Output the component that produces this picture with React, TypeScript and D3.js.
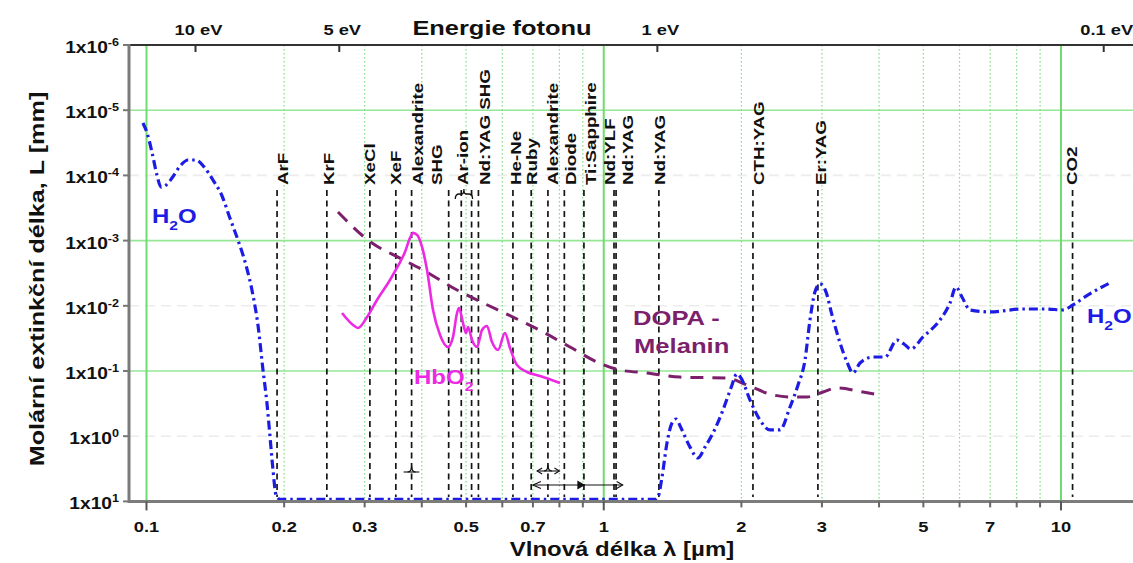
import React from 'react';
import * as d3 from 'd3';

// ---- data ---------------------------------------------------------------
// Wavelengths in µm, extinction length L in mm.
const h2oWavelength = [
  0.0982, 0.1003, 0.1028, 0.1054, 0.1076, 0.1098, 0.1137, 0.1184, 0.1233, 0.1283,
  0.1336, 0.1398, 0.1463, 0.1522, 0.1585, 0.165, 0.1709, 0.1753, 0.1798, 0.1834,
  0.1863, 0.1891, 0.192, 0.196, 0.6, 1.294, 1.314, 1.341, 1.375, 1.41, 1.439, 1.476,
  1.544, 1.607, 1.665, 1.734, 1.823, 1.898, 1.956, 1.996, 2.089, 2.196, 2.31, 2.429,
  2.555, 2.66, 2.755, 2.825, 2.897, 2.971, 3.062, 3.156, 3.286, 3.404, 3.509, 3.635,
  3.88, 4.123, 4.378, 4.535, 4.697, 4.992, 5.437, 5.718, 5.893, 6.073, 6.324, 6.994,
  8.26, 9.32, 10.1, 10.62, 11.46, 12.93,
];
const h2oLength = [
  1.57e-5, 2.24e-5, 4.4e-5, 9.9e-5, 1.51e-4, 1.45e-4, 1.1e-4, 7.2e-5, 5.8e-5, 5.8e-5,
  7.4e-5, 1.18e-4, 2.07e-4, 4.5e-4, 9.8e-4, 2.37e-3, 6.8e-3, 0.0197, 0.0966, 0.31,
  1.03, 3.3, 7.98, 9.3, 9.3, 9.3, 8.57, 4.23, 1.27, 0.628, 0.545, 0.75,
  1.47, 2.16, 1.47, 0.893, 0.396, 0.182, 0.111, 0.128, 0.279, 0.565, 0.8, 0.8,
  0.357, 0.164, 0.0678, 0.0165, 6.1e-3, 4.6e-3, 6.1e-3, 0.0138, 0.037, 0.0728, 0.107, 0.0754,
  0.061, 0.061, 0.0335, 0.0385, 0.046, 0.03, 0.0165, 9.06e-3, 5.15e-3, 7.33e-3, 0.0116, 0.0124,
  0.0112, 0.0112, 0.0116, 9.7e-3, 6.8e-3, 4.3e-3,
];

const hbo2Wavelength = [
  0.2677, 0.2829, 0.2901, 0.3036, 0.3192, 0.3408, 0.3548, 0.3675, 0.377, 0.3828,
  0.3906, 0.4005, 0.4107, 0.4233, 0.4385, 0.4565, 0.4681, 0.4777, 0.4825, 0.4923,
  0.4998, 0.5049, 0.5151, 0.5283, 0.5418, 0.5555, 0.5697, 0.5872, 0.6081, 0.6237,
  0.6459, 0.6793, 0.7255, 0.8023,
];
const hbo2Length = [
  0.0129, 0.0197, 0.0219, 0.0149, 8.15e-3, 4.02e-3, 2.45e-3, 1.5e-3, 9.1e-4, 7.6e-4,
  8.2e-4, 1.25e-3, 2.83e-3, 0.0116, 0.028, 0.0429, 0.03, 0.0129, 0.0108, 0.0184,
  0.0261, 0.0211, 0.0335, 0.0429, 0.0235, 0.0204, 0.0359, 0.0476, 0.0261, 0.0444,
  0.081, 0.1035, 0.119, 0.153,
];

const melaninWavelength = [
  0.2623, 0.3113, 0.3548, 0.4025, 0.4777, 0.5283, 0.6331, 0.7366, 0.8437, 0.9667,
  1.085, 1.243, 1.468, 1.86, 2.057, 2.346, 2.555, 2.783, 3.017, 3.237, 3.69, 4.02,
];
const melaninLength = [
  3.64e-4, 1.09e-3, 1.79e-3, 2.83e-3, 5.72e-3, 8.15e-3, 0.0149, 0.0252, 0.0429, 0.0728,
  0.0966, 0.107, 0.124, 0.128, 0.164, 0.233, 0.25, 0.25, 0.21, 0.182, 0.21, 0.233,
];

// Laser emission lines (µm)
const laserNames = [
  'ArF', 'KrF', 'XeCl', 'XeF', 'Alexandrite|SHG', 'Ar-ion', 'Nd:YAG SHG', 'He-Ne', 'Ruby',
  'Alexandrite', 'Diode', 'Ti:Sapphire', 'Nd:YLF', 'Nd:YAG', 'Nd:YAG', 'CTH:YAG', 'Er:YAG', 'CO2',
];
const laserLines = [
  [0.193], [0.248], [0.308], [0.351], [0.38], [0.458, 0.488, 0.514], [0.532], [0.633], [0.694],
  [0.755], [0.82], [0.905], [1.053], [1.064], [1.32], [2.12], [2.94], [10.6],
];

// Tunable ranges (µm): [from, to, marker]
const alexSHGRange = [0.365, 0.395, 0.38];
const alexRange = [0.715, 0.8, 0.755];
const tiSapphireRange = [0.7, 1.1, 0.905];

// Axis ticks
const xTickLabels = [0.1, 0.2, 0.3, 0.5, 0.7, 1, 2, 3, 5, 7, 10];
const xMinor = [0.2, 0.3, 0.4, 0.5, 0.6, 0.7, 0.8, 0.9, 2, 3, 4, 5, 6, 7, 8, 9];
const xMajor = [0.1, 1, 10];
const yExponents = [-6, -5, -4, -3, -2, -1, 0, 1];
const energyLabels = ['10 eV', '5 eV', '1 eV', '0.1 eV'];
const energyWavelengths = [0.128, 0.264, 1.31, 12.4];

// ---- layout -------------------------------------------------------------
const W = 1133;
const H = 563;
const LEFT = 129;
const RIGHT = 1133;
const TOP = 45;
const BOTTOM = 501.4;
const FONT = '"Liberation Sans", Arial, Helvetica, sans-serif';
const SX = 1.22; // horizontal stretch of the lettering

// label nudges for crowded laser names (px)
const laserNudge = [4, 0, -2, -2, 4.4, -0.3, 4.6, 1, -1.5, 3, 4.7, 5, -6, 10, -1, 4, 1, -2.6];

const GREEN = '#7ddf7d';
const BLUE = '#1c1ce4';
const MAGENTA = '#ec2ae4';
const PURPLE = '#7c1f6c';

const x = d3.scaleLog().domain([0.09157, 14.37]).range([LEFT, RIGHT]);
const y = d3.scaleLog().domain([1e-6, 10]).range([TOP, BOTTOM]);

const zip = (a: number[], b: number[]) => a.map((v, i) => [v, b[i]] as [number, number]);
const line = d3
  .line<[number, number]>()
  .x((d) => x(d[0]))
  .y((d) => y(d[1]))
  .curve(d3.curveMonotoneX);

type TProps = {
  x: number;
  y: number;
  rotate?: number;
  anchor?: 'start' | 'middle' | 'end';
  size: number;
  fill?: string;
  sx?: number;
  children: React.ReactNode;
};
function T({ x: tx, y: ty, rotate = 0, anchor = 'start', size, fill = '#111', sx = SX, children }: TProps) {
  return (
    <text
      transform={`translate(${tx},${ty}) rotate(${rotate}) scale(${sx},1)`}
      textAnchor={anchor}
      fontSize={size}
      fontWeight="bold"
      fontFamily={FONT}
      fill={fill}
    >
      {children}
    </text>
  );
}

function RangeMarker({ r, yy, arrows }: { r: number[]; yy: number; arrows: boolean }) {
  const x0 = x(r[0]);
  const x1 = x(r[1]);
  const xm = x(r[2]);
  return (
    <g stroke="#111" strokeWidth={1.1} fill="none">
      <line x1={x0} x2={x1} y1={yy} y2={yy} />
      <path d={`M${xm - 4},${yy} Q${xm},${yy} ${xm},${yy - 6} Q${xm},${yy} ${xm + 4},${yy}`} />
      {arrows && (
        <>
          <path d={`M${x0 + 5},${yy - 3} L${x0},${yy} L${x0 + 5},${yy + 3}`} />
          <path d={`M${x1 - 5},${yy - 3} L${x1},${yy} L${x1 - 5},${yy + 3}`} />
        </>
      )}
    </g>
  );
}

export default function App() {
  const yTicks = yExponents.map((e) => Math.pow(10, e));
  const labelY = 185;

  return (
    <svg
      width={W}
      height={H}
      viewBox={`0 0 ${W} ${H}`}
      style={{ position: 'absolute', left: 0, top: 0, background: '#fff' }}
    >
      <rect x={0} y={0} width={W} height={H} fill="#fff" />

      {/* horizontal grid */}
      {yTicks.slice(1, 7).map((v, i) => {
        const odd = i % 2 === 0;
        return (
          <line
            key={`hg${i}`}
            x1={LEFT}
            x2={RIGHT}
            y1={y(v)}
            y2={y(v)}
            stroke={odd ? '#95e695' : '#ececec'}
            strokeWidth={odd ? 1.6 : 1.6}
            strokeDasharray={odd ? undefined : '10,6'}
          />
        );
      })}

      {/* vertical grid */}
      {xMinor.map((v) => (
        <line
          key={`vm${v}`}
          x1={x(v)}
          x2={x(v)}
          y1={TOP}
          y2={BOTTOM}
          stroke={GREEN}
          strokeWidth={1.2}
          strokeDasharray="1.5,2.5"
        />
      ))}
      {xMajor.map((v) => (
        <line key={`vM${v}`} x1={x(v)} x2={x(v)} y1={TOP} y2={BOTTOM} stroke="#6fdc6f" strokeWidth={2} />
      ))}

      {/* laser lines */}
      {laserLines.map((ls, i) =>
        ls.map((v) => (
          <line
            key={`l${i}-${v}`}
            x1={x(v)}
            x2={x(v)}
            y1={190}
            y2={497}
            stroke="#151515"
            strokeWidth={1.7}
            strokeDasharray="6,4.5"
          />
        ))
      )}

      {/* laser labels */}
      {laserNames.map((name, i) => {
        const ls = laserLines[i];
        const anchor = ls[Math.floor(ls.length / 2)];
        const base = x(anchor) + 7.4 + laserNudge[i];
        const parts = name.split('|');
        return parts.map((p, j) => (
          <T key={`lt${i}-${j}`} x={base + j * 19} y={labelY} rotate={-90} size={15} sx={1.25}>
            {p}
          </T>
        ));
      })}
      {/* brace grouping the argon-ion lines */}
      {(() => {
        const a = x(laserLines[5][1]) - 6;
        const b = x(laserLines[5][2]) + 1;
        const m = (a + b) / 2;
        return (
          <path
            d={`M${a},199 Q${a},194 ${a + 4},194 L${m - 2},194 Q${m},194 ${m},189 Q${m},194 ${m + 2},194 L${b - 4},194 Q${b},194 ${b},199`}
            fill="none"
            stroke="#111"
            strokeWidth={1.3}
          />
        );
      })()}

      {/* tunable ranges */}
      <RangeMarker r={alexSHGRange} yy={472} arrows={false} />
      <RangeMarker r={alexRange} yy={471} arrows={true} />
      <g stroke="#111" strokeWidth={1.1} fill="none">
        <line x1={x(tiSapphireRange[0])} x2={x(tiSapphireRange[1])} y1={485} y2={485} />
        <path
          d={`M${x(tiSapphireRange[0]) + 8},${481.5} L${x(tiSapphireRange[0])},485 L${x(tiSapphireRange[0]) + 8},${488.5}`}
        />
        <path
          d={`M${x(tiSapphireRange[2]) - 6},481.5 L${x(tiSapphireRange[2])},485 L${x(tiSapphireRange[2]) - 6},488.5 Z`}
          fill="#111"
        />
        <path
          d={`M${x(tiSapphireRange[1]) - 6},481.5 L${x(tiSapphireRange[1])},485 L${x(tiSapphireRange[1]) - 6},488.5`}
        />
      </g>

      {/* curves */}
      <path
        d={line(zip(melaninWavelength, melaninLength)) || ''}
        fill="none"
        stroke={PURPLE}
        strokeWidth={3}
        strokeDasharray="13,9"
      />
      <path d={line(zip(hbo2Wavelength, hbo2Length)) || ''} fill="none" stroke={MAGENTA} strokeWidth={2.6} />
      <path
        d={line(zip(h2oWavelength, h2oLength)) || ''}
        fill="none"
        stroke={BLUE}
        strokeWidth={3.2}
        strokeDasharray="9,4,2.5,4"
      />

      {/* axes */}
      <line x1={LEFT} x2={RIGHT} y1={TOP} y2={TOP} stroke="#333" strokeWidth={2} />
      <line x1={LEFT} x2={RIGHT} y1={BOTTOM} y2={BOTTOM} stroke="#7c7c7c" strokeWidth={3} />
      <line x1={LEFT} x2={LEFT} y1={TOP - 1} y2={BOTTOM + 1.5} stroke="#7a7a7a" strokeWidth={3} />

      {/* left ticks and labels */}
      {yTicks.map((v, i) => (
        <g key={`yt${i}`}>
          <line x1={LEFT - 6} x2={LEFT} y1={y(v)} y2={y(v)} stroke="#777" strokeWidth={2} />
          <T x={119} y={y(v) + 8} anchor="end" size={16} sx={1.2}>
            1x10
            <tspan fontSize={10.5} dy={-7}>
              {yExponents[i]}
            </tspan>
          </T>
        </g>
      ))}

      {/* bottom ticks */}
      {xMinor.map((v) => (
        <line key={`bt${v}`} x1={x(v)} x2={x(v)} y1={BOTTOM} y2={BOTTOM + 6} stroke="#666" strokeWidth={2} />
      ))}
      {xMajor.map((v) => (
        <line key={`bT${v}`} x1={x(v)} x2={x(v)} y1={BOTTOM} y2={BOTTOM + 9} stroke="#555" strokeWidth={2} />
      ))}
      {xTickLabels.map((v) => (
        <T key={`bl${v}`} x={x(v)} y={532} anchor="middle" size={15}>
          {String(v)}
        </T>
      ))}

      {/* top energy axis */}
      {energyWavelengths.map((v, i) => (
        <g key={`et${i}`}>
          <line x1={x(v)} x2={x(v)} y1={TOP} y2={TOP + 7} stroke="#333" strokeWidth={2} />
          <T x={x(v) + 3} y={35} anchor="middle" size={15}>
            {energyLabels[i]}
          </T>
        </g>
      ))}
      <T x={502} y={35} anchor="middle" size={20} sx={1.27}>
        Energie fotonu
      </T>

      {/* axis titles */}
      <T x={622} y={556} anchor="middle" size={20} sx={1.2}>
        Vlnová délka λ [µm]
      </T>
      <T x={44} y={279} rotate={-90} anchor="middle" size={20} sx={1.26}>
        Molární extinkční délka, L [mm]
      </T>

      {/* curve labels */}
      <T x={152} y={223} size={20} fill={BLUE} sx={1.2}>
        H
        <tspan fontSize={13} dy={7}>
          2
        </tspan>
        <tspan dy={-7}>O</tspan>
      </T>
      <T x={1087} y={323} size={20} fill={BLUE} sx={1.2}>
        H
        <tspan fontSize={13} dy={7}>
          2
        </tspan>
        <tspan dy={-7}>O</tspan>
      </T>
      <T x={414} y={384} size={20} fill={MAGENTA} sx={1.2}>
        HbO
        <tspan fontSize={13} dy={7}>
          2
        </tspan>
      </T>
      <T x={633} y={325} size={21} fill={PURPLE} sx={1.22}>
        DOPA -
      </T>
      <T x={634} y={353} size={21} fill={PURPLE} sx={1.22}>
        Melanin
      </T>
    </svg>
  );
}
